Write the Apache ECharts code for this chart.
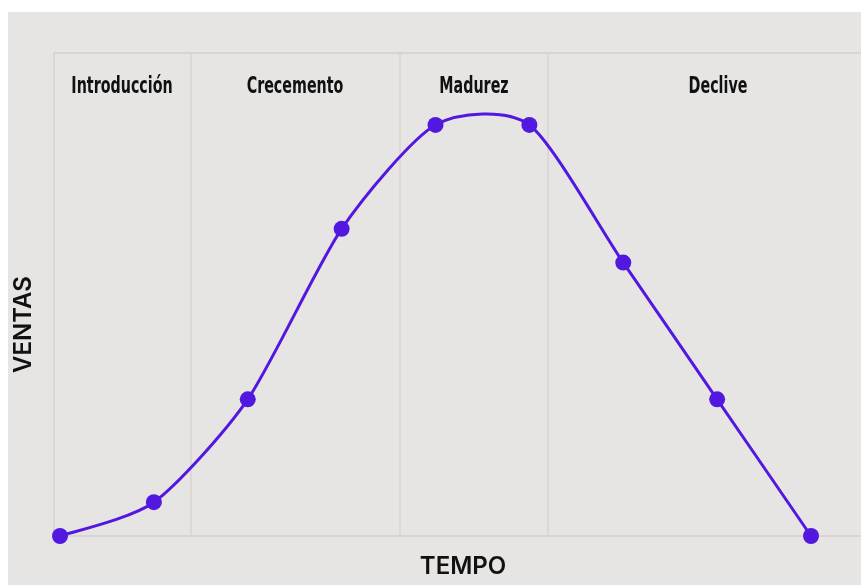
<!DOCTYPE html>
<html>
<head>
<meta charset="utf-8">
<script src="https://cdn.jsdelivr.net/npm/echarts@6/dist/echarts.min.js"></script>
<style>
  html, body { margin: 0; padding: 0; background: #fff; }
  #chart { width: 861px; height: 585px; }
</style>
</head>
<body>
<div id="chart"></div>
<script>
// Ciclo de vida do produto: vendas ao longo do tempo
const periods = [0, 1, 2, 3, 4, 5, 6, 7, 8];
const ventas = [0, 7.0, 28.3, 63.6, 85.1, 85.1, 56.6, 28.3, 0];

// Fases e os seus limites no eixo do tempo
const phaseNames = ['Introducción', 'Crecemento', 'Madurez', 'Declive'];
const phaseBounds = [-0.064, 1.385, 3.622, 5.198, 8.82];

const xMin = -0.064;
const xMax = 8.82;

const lineColor = '#5218e0';
const gridColor = '#d7d4d3';
const dividerColor = '#dbd2d2';
const tension = 0.72;

const chart = echarts.init(document.getElementById('chart'), null, { renderer: 'canvas' });

const points = periods.map((p, i) => [p, ventas[i]]);
const dividers = phaseBounds.slice(1, phaseBounds.length - 1).map(v => ({ xAxis: v }));

// Curva cardinal (Catmull-Rom) entre cada par de puntos consecutivos
function renderSegment(params, api) {
  const i = params.dataIndex;
  const n = periods.length;
  if (i >= n - 1) return null;
  const at = k => {
    const j = Math.max(0, Math.min(n - 1, k));
    return api.coord([periods[j], ventas[j]]);
  };
  const p0 = at(i - 1), p1 = at(i), p2 = at(i + 1), p3 = at(i + 2);
  const t = tension / 6;
  return {
    type: 'bezierCurve',
    shape: {
      x1: p1[0], y1: p1[1],
      x2: p2[0], y2: p2[1],
      cpx1: p1[0] + (p2[0] - p0[0]) * t,
      cpy1: p1[1] + (p2[1] - p0[1]) * t,
      cpx2: p2[0] - (p3[0] - p1[0]) * t,
      cpy2: p2[1] - (p3[1] - p1[1]) * t
    },
    style: { stroke: lineColor, lineWidth: 3, fill: 'none', lineCap: 'round' }
  };
}

// Rótulo de cada fase, centrado no seu intervalo
function renderPhaseLabel(params, api) {
  const i = params.dataIndex;
  const left = api.coord([phaseBounds[i], 100]);
  const right = api.coord([phaseBounds[i + 1], 100]);
  return {
    type: 'text',
    x: (left[0] + right[0]) / 2,
    y: left[1] + 34,
    scaleX: 0.69,
    style: {
      text: phaseNames[i],
      fontFamily: "'DejaVu Sans Condensed', 'DejaVu Sans', sans-serif",
      fontWeight: 'bold',
      fontSize: 23,
      fill: '#111111',
      align: 'center',
      verticalAlign: 'middle'
    }
  };
}

chart.setOption({
  backgroundColor: '#ffffff',
  animation: false,
  graphic: [{
    type: 'rect',
    z: -10,
    silent: true,
    shape: { x: 8, y: 12, width: 861, height: 585 },
    style: { fill: '#e7e5e4' }
  }],
  grid: {
    left: 54,
    right: -27,
    top: 53,
    bottom: 49,
    containLabel: false,
    outerBoundsMode: 'none'
  },
  xAxis: {
    type: 'value',
    min: xMin,
    max: xMax,
    name: 'TEMPO',
    nameLocation: 'middle',
    nameGap: 19,
    nameTextStyle: {
      fontFamily: 'Inter, sans-serif',
      fontWeight: 600,
      fontSize: 24,
      color: '#111111',
      padding: [0, 16, 0, 0]
    },
    axisLine: { show: false },
    axisTick: { show: false },
    axisLabel: { show: false },
    splitLine: { show: false }
  },
  yAxis: {
    type: 'value',
    min: 0,
    max: 100,
    interval: 100,
    name: 'VENTAS',
    nameLocation: 'middle',
    nameRotate: 90,
    nameGap: 18,
    nameTextStyle: {
      fontFamily: 'Inter, sans-serif',
      fontWeight: 600,
      fontSize: 24,
      color: '#111111',
      padding: [0, 60, 0, 0]
    },
    axisLine: { show: true, onZero: false, lineStyle: { color: dividerColor, width: 1.5 } },
    axisTick: { show: false },
    axisLabel: { show: false },
    splitLine: { show: true, lineStyle: { color: gridColor, width: 2 } }
  },
  series: [
    {
      type: 'custom',
      name: 'limites',
      data: [],
      renderItem: () => null,
      silent: true,
      z: 1,
      markLine: {
        silent: true,
        z: 1,
        symbol: 'none',
        label: { show: false },
        lineStyle: { color: dividerColor, width: 1.5, type: 'solid' },
        data: dividers
      }
    },
    {
      type: 'custom',
      name: 'curva',
      data: points,
      encode: { x: 0, y: 1 },
      renderItem: renderSegment,
      silent: true,
      z: 4
    },
    {
      type: 'scatter',
      name: 'Ventas',
      data: points,
      symbol: 'circle',
      symbolSize: 16,
      itemStyle: { color: lineColor, opacity: 1 },
      z: 5
    },
    {
      type: 'custom',
      name: 'fases',
      data: phaseNames.map((_, i) => [phaseBounds[i], 100]),
      encode: { x: 0, y: 1 },
      renderItem: renderPhaseLabel,
      silent: true,
      clip: false,
      z: 6
    }
  ]
});
</script>
</body>
</html>
